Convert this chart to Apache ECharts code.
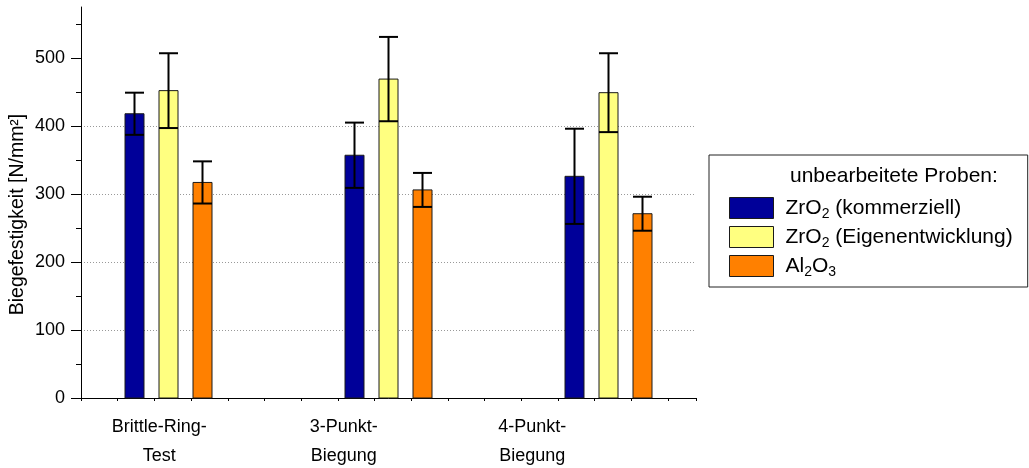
<!DOCTYPE html>
<html>
<head>
<meta charset="utf-8">
<script src="https://cdn.jsdelivr.net/npm/echarts@6/dist/echarts.min.js"></script>
<style>
  html, body { margin: 0; padding: 0; background: #fff; }
  #chart { width: 1029px; height: 468px; }
</style>
</head>
<body>
<div id="chart"></div>
<script>
// categories and where they sit on the numeric x axis (axis units)
var categories = ['Brittle-Ring-\nTest', '3-Punkt-\nBiegung', '4-Punkt-\nBiegung']
var catX = [2.37, 8.37, 14.37]
var labelX = [2.13, 7.16, 12.3]

var seriesNames = ['ZrO2 (kommerziell)', 'ZrO2 (Eigenentwicklung)', 'Al2O3']
var zrKomm = [418, 357, 326]
var zrKommErr = [31, 48, 70]
var zrEigen = [452, 469, 449]
var zrEigenErr = [55, 62, 58]
var al2o3 = [317, 306, 271]
var al2o3Err = [31, 25, 25]

var yTicks = [0, 100, 200, 300, 400, 500]

var colors = ['#000099', '#ffff80', '#ff8000']
var font = '"Liberation Sans", Arial, sans-serif'
var barStep = 0.93
var barPx = 19

function buildData(means, errs, k) {
  var out = []
  for (let i = 0; i < means.length; i++) {
    out.push([catX[i] + (k - 1) * barStep, means[i], errs[i]])
  }
  return out
}

function makeRender(color) {
  return function (params, api) {
    var x = api.value(0)
    var y = api.value(1)
    var e = api.value(2)
    var base = api.coord([x, 0])
    var top = api.coord([x, y])
    var hi = api.coord([x, y + e])
    var lo = api.coord([x, y - e])
    var cx = Math.round(top[0]) + 0.5
    var half = barPx / 2
    var capStyle = { stroke: '#000', lineWidth: 2 }
    return {
      type: 'group',
      children: [
        {
          type: 'rect',
          shape: { x: cx - half, y: top[1], width: barPx, height: base[1] - top[1] },
          style: { fill: color, stroke: '#1a1a1a', lineWidth: 1 }
        },
        { type: 'line', shape: { x1: cx, y1: hi[1], x2: cx, y2: lo[1] }, style: capStyle },
        { type: 'line', shape: { x1: cx - half, y1: hi[1], x2: cx + half, y2: hi[1] }, style: capStyle },
        { type: 'line', shape: { x1: cx - half, y1: lo[1], x2: cx + half, y2: lo[1] }, style: capStyle }
      ]
    }
  }
}

var chart = echarts.init(document.getElementById('chart'), null, { renderer: 'canvas' })

var means = [zrKomm, zrEigen, al2o3]
var errs = [zrKommErr, zrEigenErr, al2o3Err]
var series = []
for (let k = 0; k < 3; k++) {
  series.push({
    name: seriesNames[k],
    type: 'custom',
    xAxisIndex: 0,
    yAxisIndex: 0,
    itemStyle: { color: colors[k], borderColor: '#1a1a1a', borderWidth: 1 },
    renderItem: makeRender(colors[k]),
    encode: { x: 0, y: 1 },
    data: buildData(means[k], errs[k], k),
    z: 3
  })
}

var option = {
  animation: false,
  backgroundColor: '#fff',
  textStyle: { fontFamily: font, color: '#000' },
  title: {
    text: 'unbearbeitete Proben:',
    left: 790,
    top: 166,
    padding: 0,
    textStyle: { fontFamily: font, fontSize: 21, fontWeight: 'normal', color: '#000' }
  },
  legend: {
    orient: 'vertical',
    left: 709,
    top: 155,
    padding: [42, 15, 8, 20],
    itemWidth: 44,
    itemHeight: 21,
    itemGap: 5,
    icon: 'rect',
    borderColor: '#222',
    borderWidth: 1,
    data: seriesNames.map(function (n, k) {
      return { name: n, itemStyle: { color: colors[k], borderColor: '#1a1a1a', borderWidth: 1 } }
    }),
    formatter: function (name) {
      return name.replace(/([A-Za-z])(\d)/g, '$1{sub|$2}')
    },
    textStyle: {
      fontFamily: font,
      fontSize: 21,
      color: '#000',
      padding: [0, 0, 0, 7],
      rich: {
        sub: { fontFamily: font, fontSize: 14, color: '#000', padding: [12, 0, 0, 0] }
      }
    }
  },
  grid: { left: 81, right: 333, top: 7, bottom: 70, containLabel: false, outerBoundsMode: 'none' },
  xAxis: [
    {
      type: 'value',
      min: 0,
      max: 16.76,
      interval: 1,
      axisLine: { show: true, onZero: false, lineStyle: { color: '#000', width: 1 } },
      axisTick: { show: true, length: 3, lineStyle: { color: '#000' } },
      axisLabel: { show: false },
      splitLine: { show: false }
    },
    {
      type: 'value',
      min: 0,
      max: 16.76,
      position: 'bottom',
      axisLine: { show: false },
      axisTick: { show: false },
      splitLine: { show: false },
      axisLabel: {
        show: true,
        customValues: labelX,
        margin: 15,
        fontFamily: font,
        fontSize: 18,
        lineHeight: 29,
        color: '#000',
        formatter: function (v) {
          var best = 0
          for (let i = 1; i < labelX.length; i++) {
            if (Math.abs(labelX[i] - v) < Math.abs(labelX[best] - v)) best = i
          }
          return categories[best]
        }
      }
    }
  ],
  yAxis: {
    type: 'value',
    min: 0,
    max: 575,
    interval: 100,
    name: 'Biegefestigkeit [N/mm²]',
    nameLocation: 'middle',
    nameGap: 53,
    nameMoveOverlap: false,
    nameTextStyle: { fontFamily: font, fontSize: 19.5, color: '#000', padding: [0, 24, 0, 0] },
    axisLine: { show: true, lineStyle: { color: '#000', width: 1 } },
    axisTick: { show: true, customValues: yTicks, length: 10, lineStyle: { color: '#000' } },
    minorTick: { show: true, splitNumber: 2, length: 5, lineStyle: { color: '#000' } },
    axisLabel: { customValues: yTicks, margin: 16, fontFamily: font, fontSize: 18, color: '#000' },
    splitLine: {
      show: true,
      showMinLine: false,
      showMaxLine: false,
      lineStyle: { color: '#999', width: 1, type: [1, 2] }
    }
  },
  series: series
}

chart.setOption(option)
</script>
</body>
</html>
